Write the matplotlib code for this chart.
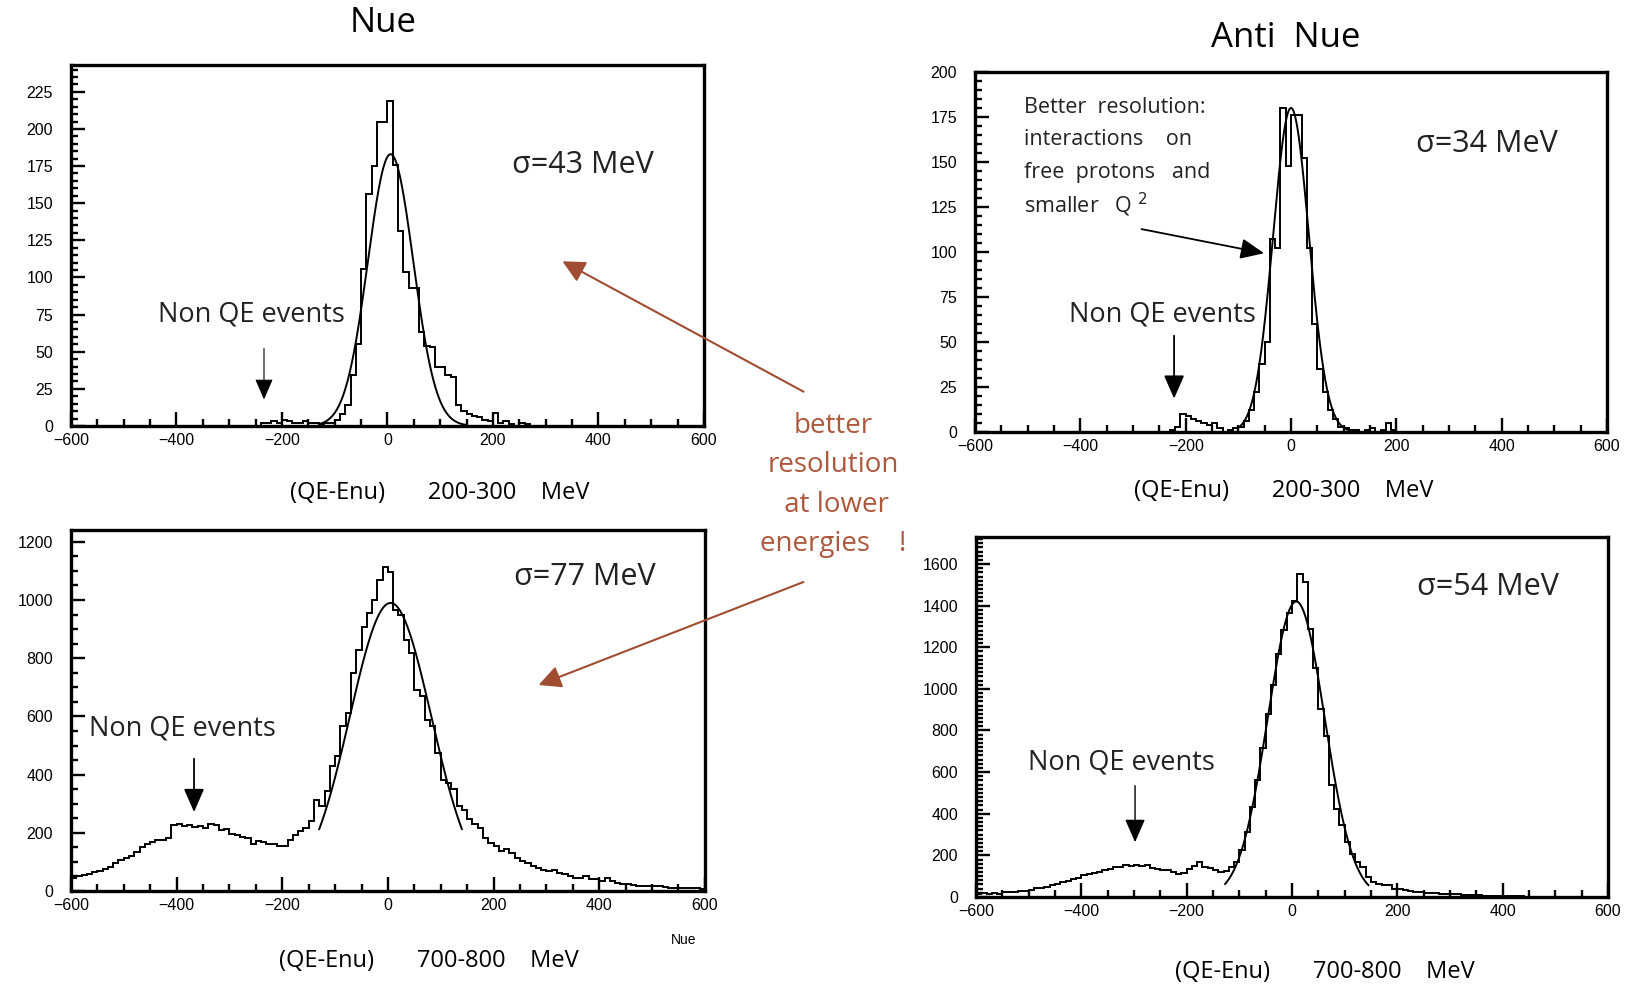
import numpy as np
import matplotlib
matplotlib.use("Agg")
import matplotlib.pyplot as plt
from matplotlib.patches import FancyArrowPatch
from matplotlib.ticker import MultipleLocator

plt.rcParams['font.family'] = ['Open Sans', 'DejaVu Sans']

BIN = 10  # MeV per bin

# ---- Nue, 200-300 MeV (counts per 10 MeV bin, first bin starts at *_start)
nue_low_start = -250
nue_low_counts = [0, 2, 2, 3, 2, 4, 3, 2, 2, 3, 2, 2, 1, 2, 2, 4, 8, 14, 34, 55,
                  106, 156, 175, 205, 205, 219, 176, 131, 104, 93, 93, 63, 54, 53, 40, 40,
                  34, 33, 14, 10, 8, 7, 6, 4, 3, 9, 2, 3, 1, 0, 2, 1]
nue_low_fit = (183, 6, 43)          # amplitude, mean, sigma
nue_low_fit_range = (-130, 150)

# ---- Anti Nue, 200-300 MeV
anue_low_start = -240
anue_low_counts = [0, 1, 3, 10, 9, 7, 6, 5, 4, 5, 2, 0, 1, 2, 3, 6, 12, 22, 38, 50,
                   107, 102, 180, 148, 176, 176, 152, 102, 60, 35, 22, 12, 7, 3, 2, 1,
                   1, 0, 1, 2, 0, 1, 5, 1]
anue_low_fit = (180, 0, 34)
anue_low_fit_range = (-100, 110)

# ---- Nue, 700-800 MeV
nue_high_start = -600
nue_high_counts = [46, 50, 54, 58, 64, 70, 76, 84, 95, 106, 114, 122, 135, 150, 160, 170,
                   174, 177, 182, 226, 229, 224, 228, 220, 225, 218, 229, 228, 211, 214,
                   196, 194, 185, 183, 160, 171, 168, 160, 160, 154, 154, 177, 194, 206,
                   217, 240, 314, 291, 343, 429, 463, 566, 611, 749, 829, 909, 954, 1000,
                   1069, 1114, 1097, 966, 949, 863, 817, 691, 669, 589, 566, 474, 383, 371,
                   349, 291, 280, 246, 229, 217, 183, 166, 154, 137, 143, 131, 114, 103,
                   97, 86, 80, 74, 69, 74, 63, 57, 51, 46, 46, 51, 40, 40, 34, 46, 34, 29,
                   23, 23, 20, 17, 17, 19, 17, 19, 14, 12, 12, 10, 11, 9, 10, 8]
nue_high_fit = (990, 5, 77)
nue_high_fit_range = (-130, 140)

# ---- Anti Nue, 700-800 MeV
anue_high_start = -600
anue_high_counts = [14, 18, 12, 20, 16, 22, 24, 26, 28, 30, 34, 42, 44, 50, 56, 64, 72, 76,
                    86, 90, 104, 108, 116, 120, 128, 132, 144, 142, 152, 148, 156, 150,
                    152, 140, 136, 130, 128, 120, 112, 116, 136, 150, 168, 146, 140, 128,
                    122, 124, 144, 170, 225, 310, 430, 560, 715, 880, 1020, 1170, 1285,
                    1365, 1420, 1550, 1515, 1290, 1100, 905, 775, 540, 425, 345, 265, 208,
                    168, 144, 96, 72, 64, 56, 56, 40, 40, 32, 30, 24, 24, 21, 20, 18, 16,
                    16, 14, 12, 11, 10, 9, 8, 7, 6, 5, 5, 4, 4, 3, 3, 2, 2, 2, 1, 1, 1, 1,
                    0, 0, 0, 0, 0, 0, 0, 0, 0]
anue_high_fit = (1420, 8, 54)
anue_high_fit_range = (-127, 145)

x_ticks = [-600, -400, -200, 0, 200, 400, 600]

RED = '#ad583c'
INK = '#222222'

fig = plt.figure(figsize=(16.42, 9.86), dpi=100)


def panel(rect, start, counts, fit, fit_range, ymax, ystep, yminor):
    ax = fig.add_axes(rect)
    edges = start + BIN * np.arange(len(counts) + 1)
    ax.stairs(counts, edges, color='black', lw=1.4)
    amp, mu, sig = fit
    xf = np.linspace(fit_range[0], fit_range[1], 400)
    ax.plot(xf, amp * np.exp(-0.5 * ((xf - mu) / sig) ** 2), color='black', lw=1.4)
    ax.set_xlim(-600, 600)
    ax.set_ylim(0, ymax)
    ax.set_xticks(x_ticks)
    ax.xaxis.set_minor_locator(MultipleLocator(50))
    ax.yaxis.set_major_locator(MultipleLocator(ystep))
    ax.yaxis.set_minor_locator(MultipleLocator(yminor))
    ax.tick_params(which='both', direction='in', top=False, right=False,
                   labelsize=11.5, width=1.7)
    ax.tick_params(which='major', length=10)
    ax.tick_params(which='minor', length=5)
    ax.tick_params(axis='y', pad=13)
    ax.tick_params(axis='x', pad=5)
    for lab in ax.get_xticklabels() + ax.get_yticklabels():
        lab.set_family(['Liberation Sans', 'DejaVu Sans'])
    for s in ax.spines.values():
        s.set_linewidth(2.4)
    return ax


def non_qe(ax, text_xy, tail, tip, lw=1.0, head=18):
    ax.text(text_xy[0], text_xy[1], 'Non QE events', fontsize=19.5, color=INK,
            ha='center', va='center')
    ax.annotate('', xy=tip, xytext=tail,
                arrowprops=dict(arrowstyle='-|>,head_length=0.8,head_width=0.35',
                                color='black', lw=lw, mutation_scale=head))


ax1 = panel([0.0432, 0.568, 0.3855, 0.366], nue_low_start, nue_low_counts,
            nue_low_fit, nue_low_fit_range, 243, 25, 5)
ax2 = panel([0.5938, 0.5619, 0.3849, 0.3651], anue_low_start, anue_low_counts,
            anue_low_fit, anue_low_fit_range, 200, 25, 5)
ax3 = panel([0.0432, 0.0963, 0.3861, 0.366], nue_high_start, nue_high_counts,
            nue_high_fit, nue_high_fit_range, 1240, 200, 50)
ax4 = panel([0.5944, 0.0903, 0.3849, 0.3651], anue_high_start, anue_high_counts,
            anue_high_fit, anue_high_fit_range, 1730, 200, 20)

# sigma labels
ax1.text(370, 176, 'σ=43 MeV', fontsize=22, ha='center', va='center', color=INK)
ax2.text(372, 160, 'σ=34 MeV', fontsize=22, ha='center', va='center', color=INK)
ax3.text(373, 1079, 'σ=77 MeV', fontsize=22, ha='center', va='center', color=INK)
ax4.text(372, 1490, 'σ=54 MeV', fontsize=22, ha='center', va='center', color=INK)

# Non QE annotations
non_qe(ax1, (-257, 75), (-234, 54), (-234, 16), lw=0.8, head=16)
non_qe(ax2, (-245, 65), (-222, 55), (-222, 17), lw=1.3)
non_qe(ax3, (-388, 557), (-367, 464), (-367, 262), lw=1.3)
non_qe(ax4, (-323, 644), (-298, 548), (-298, 250), lw=1.0)

# note in anti-nue low panel
note_lines = ['Better  resolution:', 'interactions    on', 'free  protons   and',
              'smaller   Q $^{2}$']
for i, line in enumerate(note_lines):
    ax2.text(-507, 180.5 - 18.2 * i, line, fontsize=15.5, ha='left', va='center',
             color=INK)
ax2.annotate('', xy=(-46, 99), xytext=(-289, 113),
             arrowprops=dict(arrowstyle='-|>,head_length=0.8,head_width=0.35',
                             color='black', lw=1.3, mutation_scale=18))

# titles and axis captions
fig.text(383 / 1642, 1 - 23 / 986, 'Nue', fontsize=25, ha='center', va='center')
fig.text(1286 / 1642, 1 - 38 / 986, 'Anti  Nue', fontsize=25, ha='center', va='center')
caption_low = '(QE-Enu)       200-300    MeV'
caption_high = '(QE-Enu)       700-800    MeV'
fig.text(440 / 1642, 1 - 493 / 986, caption_low, fontsize=17, ha='center', va='center')
fig.text(1284 / 1642, 1 - 491 / 986, caption_low, fontsize=17, ha='center', va='center')
fig.text(429 / 1642, 1 - 961 / 986, caption_high, fontsize=17, ha='center', va='center')
fig.text(1325 / 1642, 1 - 972 / 986, caption_high, fontsize=17, ha='center', va='center')
fig.text(684 / 1642, 1 - 940 / 986, 'Nue', fontsize=10, ha='center', va='center',
         family=['Liberation Sans', 'DejaVu Sans'])

# red comment between the panels
red_lines = ['better', 'resolution', ' at lower', 'energies    !']
for i, line in enumerate(red_lines):
    fig.text(833 / 1642, 1 - (426 + 39.3 * i) / 986, line, fontsize=20, color=RED,
             ha='center', va='center')

for tail, tip in [((806, 393), (560, 260)), ((806, 581), (536, 686))]:
    arr = FancyArrowPatch((tail[0] / 1642, 1 - tail[1] / 986),
                          (tip[0] / 1642, 1 - tip[1] / 986),
                          transform=fig.transFigure, color='#a04d32', lw=1.5,
                          arrowstyle='-|>,head_length=0.8,head_width=0.4',
                          mutation_scale=17)
    fig.add_artist(arr)

fig.savefig('out.png', dpi=100)
